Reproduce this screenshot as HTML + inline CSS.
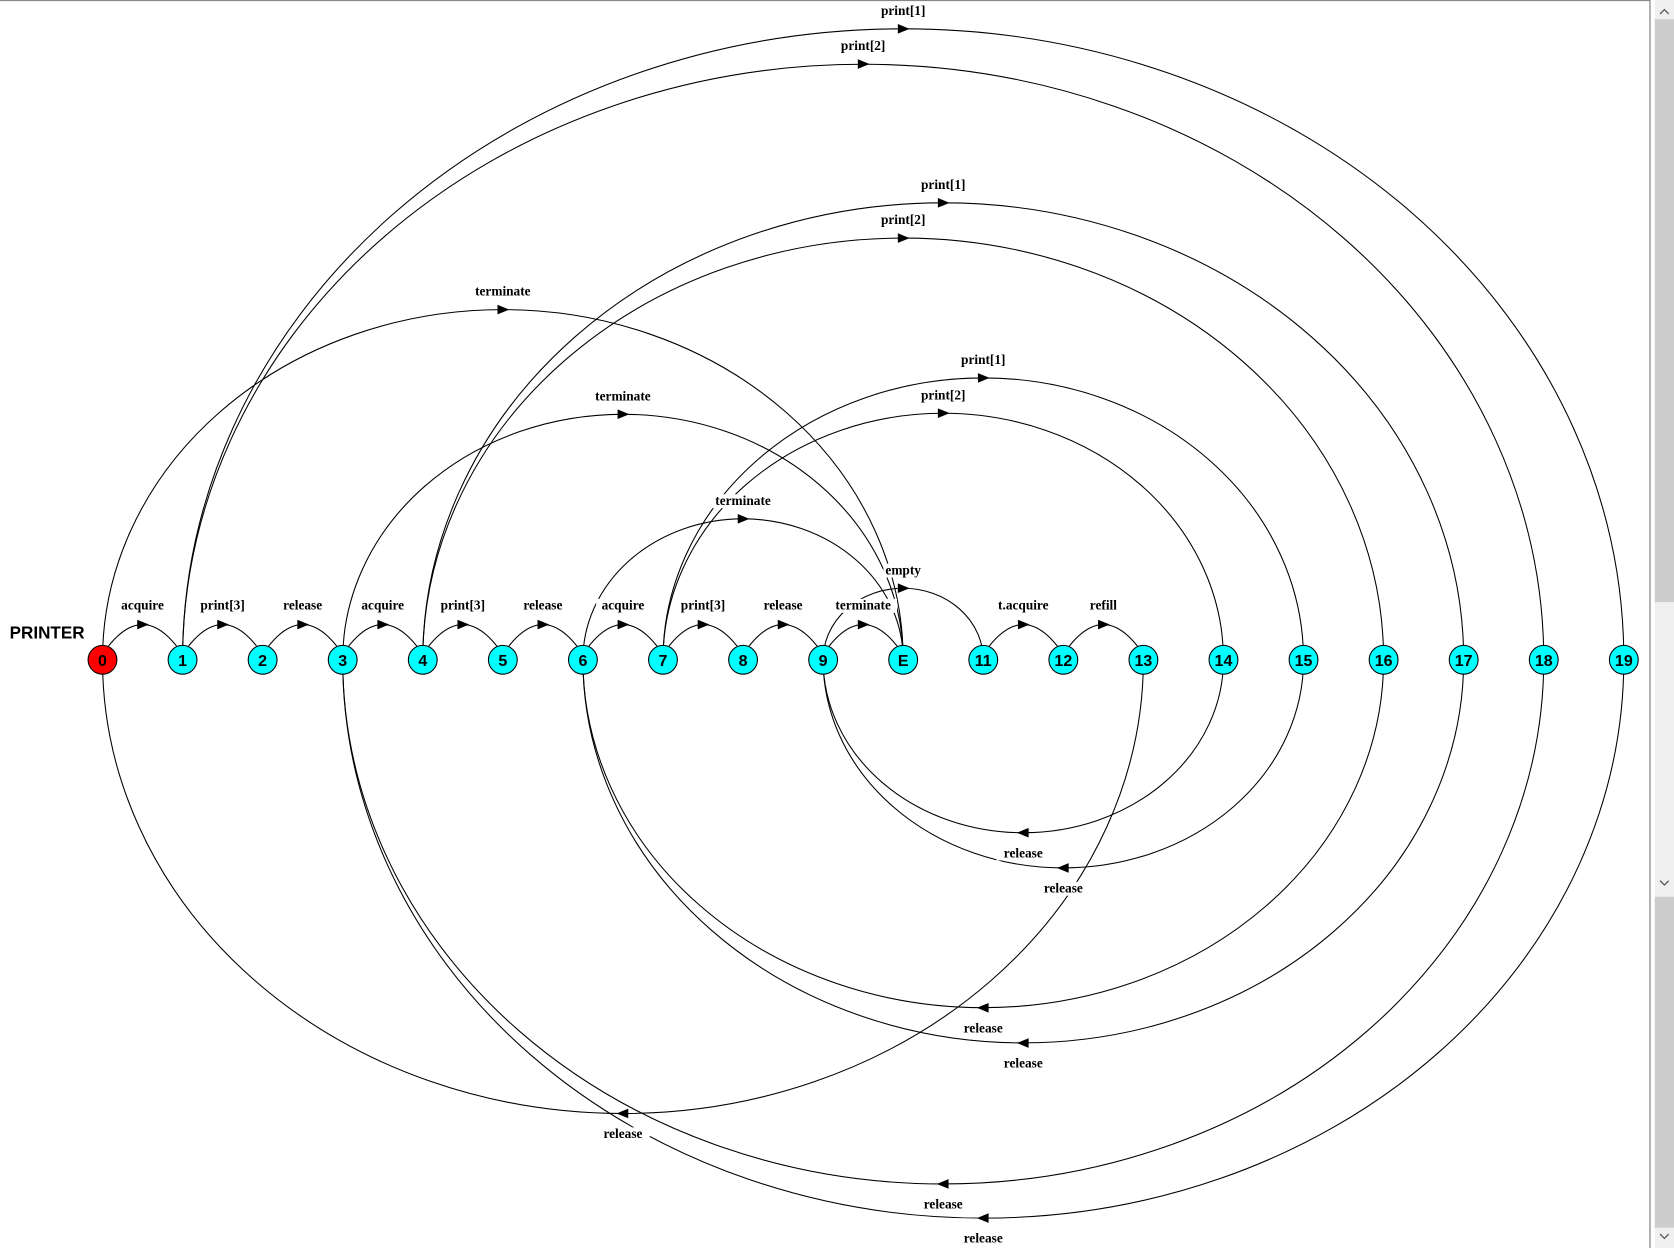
<!DOCTYPE html>
<html><head><meta charset="utf-8"><style>
html,body{margin:0;padding:0;background:#fff;overflow:hidden}
svg{display:block}
.l{font-family:"Liberation Serif",serif;font-weight:bold;font-size:12.5px;text-anchor:middle}
.n{font-family:"Liberation Sans",sans-serif;font-weight:bold;font-size:15px;text-anchor:middle}
</style></head><body>
<svg width="1674" height="1248" viewBox="0 0 1568 1169" preserveAspectRatio="none" xmlns="http://www.w3.org/2000/svg">
<rect x="0" y="0" width="1568" height="1169" fill="#fff"/>
<line x1="0" y1="0.5" x2="1546" y2="0.5" stroke="#888" stroke-width="1.2"/>
<line x1="1545.5" y1="0" x2="1545.5" y2="1169" stroke="#888" stroke-width="1.2"/>
<rect x="1550" y="0" width="18" height="1169" fill="#f0f0f0"/>
<rect x="1550" y="18" width="18" height="546" fill="#cdcdcd"/>
<rect x="1550" y="840" width="18" height="310" fill="#cdcdcd"/>
<path d="M1555 13 L1559 9 L1563 13" fill="none" stroke="#555" stroke-width="1.2"/>
<path d="M1555 825 L1559 829 L1563 825" fill="none" stroke="#555" stroke-width="1.2"/>
<path d="M1555 1156 L1559 1160 L1563 1156" fill="none" stroke="#555" stroke-width="1.2"/>
<g id="edges" fill="none" stroke="#000" stroke-width="1"></g>
<g id="arrows" fill="#000"></g>
<g id="labels"></g>
<g id="nodes"></g>
<text x="9" y="598" font-family="Liberation Sans,sans-serif" font-weight="bold" font-size="16">PRINTER</text>
<script>
(function(){
var X=function(i){return 96+75*i};
var NS="http://www.w3.org/2000/svg";
function el(t,a,p,txt){var e=document.createElementNS(NS,t);for(var k in a)e.setAttribute(k,a[k]);if(txt!==undefined)e.textContent=txt;document.getElementById(p).appendChild(e);return e;}
function label(x,y,t){var w=t.length*6.6+4;el('rect',{x:x-w/2,y:y-10,width:w,height:13,fill:'#fff'},'labels');el('text',{x:x,y:y,'class':'l'},'labels',t);}
function arrow(x,y,dir){if(dir>0)el('path',{d:'M'+(x+6)+' '+y+' L'+(x-5)+' '+(y-4.5)+' L'+(x-5)+' '+(y+4.5)+'Z'},'arrows');else el('path',{d:'M'+(x-6)+' '+y+' L'+(x+5)+' '+(y-4.5)+' L'+(x+5)+' '+(y+4.5)+'Z'},'arrows');}
var adj=[[0,1,'acquire'],[1,2,'print[3]'],[2,3,'release'],[3,4,'acquire'],[4,5,'print[3]'],[5,6,'release'],[6,7,'acquire'],[7,8,'print[3]'],[8,9,'release'],[9,10,'terminate'],[11,12,'t.acquire'],[12,13,'refill']];
adj.forEach(function(a){var x1=X(a[0])+5,x2=X(a[1])-5,m=(x1+x2)/2;el('path',{d:'M'+x1+' 606 Q'+m+' 564 '+x2+' 606'},'edges');arrow(m,585,1);label(m,571,a[2]);});
var tops=[[1,19,27,'print[1]'],[1,18,60,'print[2]'],[4,17,190,'print[1]'],[4,16,223,'print[2]'],[0,10,290,'terminate'],[3,10,388,'terminate'],[7,15,354,'print[1]'],[7,14,387,'print[2]'],[6,10,486,'terminate'],[9,11,551,'empty']];
tops.forEach(function(a){var x1=X(a[0]),x2=X(a[1]),rx=(x2-x1)/2,ry=618-a[2],m=(x1+x2)/2;el('path',{d:'M'+x1+' 618 A'+rx+' '+ry+' 0 0 1 '+x2+' 618'},'edges');arrow(m,a[2],1);label(m,a[2]-13,a[3]);});
var bots=[[14,9,780],[15,9,813],[13,0,1043],[16,6,944],[17,6,977],[18,3,1109],[19,3,1141]];
bots.forEach(function(a){var x1=X(a[1]),x2=X(a[0]),rx=(x2-x1)/2,ry=a[2]-618,m=(x1+x2)/2;el('path',{d:'M'+x2+' 618 A'+rx+' '+ry+' 0 0 1 '+x1+' 618'},'edges');arrow(m,a[2],-1);label(m,a[2]+23,'release');});
for(var i=0;i<20;i++){var x=X(i);el('circle',{cx:x,cy:618,r:13.5,fill:i==0?'#ff0000':'#00ffff',stroke:'#000','stroke-width':1},'nodes');el('text',{x:x,y:624,'class':'n'},'nodes',i==10?'E':String(i));}
})();
</script>
</svg>
</body></html>
